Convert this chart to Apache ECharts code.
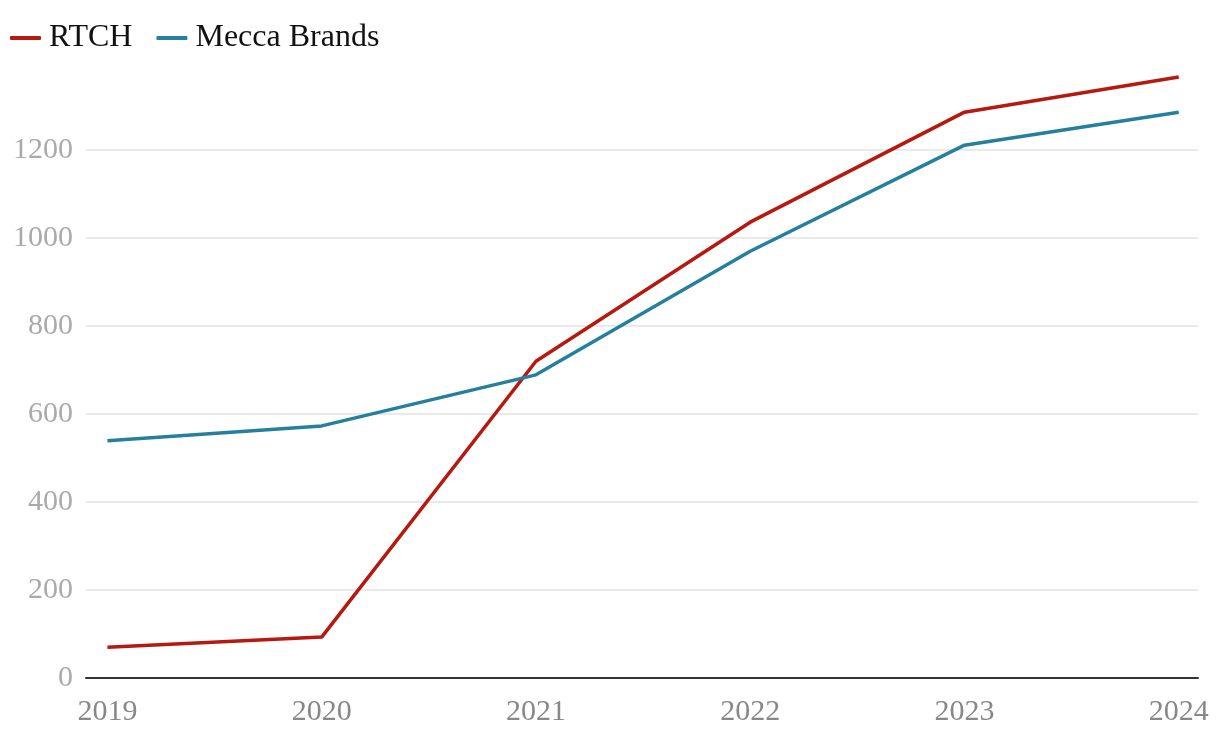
<!DOCTYPE html>
<html><head><meta charset="utf-8">
<script src="https://cdn.jsdelivr.net/npm/echarts@6/dist/echarts.min.js"></script>
<style>html,body{margin:0;padding:0;background:#fff}#c{width:1220px;height:740px}</style>
</head><body><div id="c"></div>
<script>
const years = [2019, 2020, 2021, 2022, 2023, 2024];
const rtch = [70, 93, 720, 1036, 1286, 1366];
const mecca = [539, 573, 689, 970, 1211, 1286];
const yTicks = [0, 200, 400, 600, 800, 1000, 1200];

const font = '"Liberation Serif", serif';
const chart = echarts.init(document.getElementById('c'));
chart.setOption({
  animation: false,
  textStyle: { fontFamily: font },
  legend: {
    left: 5, top: 17, itemWidth: 31, itemHeight: 4, itemGap: 24,
    icon: 'roundRect',
    textStyle: { fontFamily: font, fontSize: 32, color: '#111', padding: [0, 0, 0, 3] },
    data: ['RTCH', 'Mecca Brands']
  },
  grid: { left: 86, right: 22, top: 62, bottom: 62, containLabel: false },
  xAxis: {
    type: 'value', min: 2018.9, max: 2024.09,
    axisLine: { show: true, lineStyle: { color: '#333', width: 2 } },
    axisTick: { show: false, customValues: years },
    splitLine: { show: false },
    axisLabel: { customValues: years, color: '#888', fontSize: 30, fontFamily: font, margin: 19,
      formatter: v => String(v) }
  },
  yAxis: {
    type: 'value', min: 0, max: 1400,
    axisLine: { show: false },
    axisTick: { show: false, customValues: yTicks },
    splitLine: { show: true, lineStyle: { color: '#e3e3e3', width: 1.5 } },
    axisLabel: { customValues: yTicks, color: '#aaa', fontSize: 30, fontFamily: font, margin: 13,
      padding: [6, 0, 0, 0], formatter: v => String(v) }
  },
  series: [
    { name: 'RTCH', type: 'line', data: years.map((y, i) => [y, rtch[i]]),
      symbol: 'none', color: '#b5190f', lineStyle: { width: 3.5, color: '#b5190f' } },
    { name: 'Mecca Brands', type: 'line', data: years.map((y, i) => [y, mecca[i]]),
      symbol: 'none', color: '#24809c', lineStyle: { width: 3.5, color: '#24809c' } }
  ]
});
</script></body></html>
